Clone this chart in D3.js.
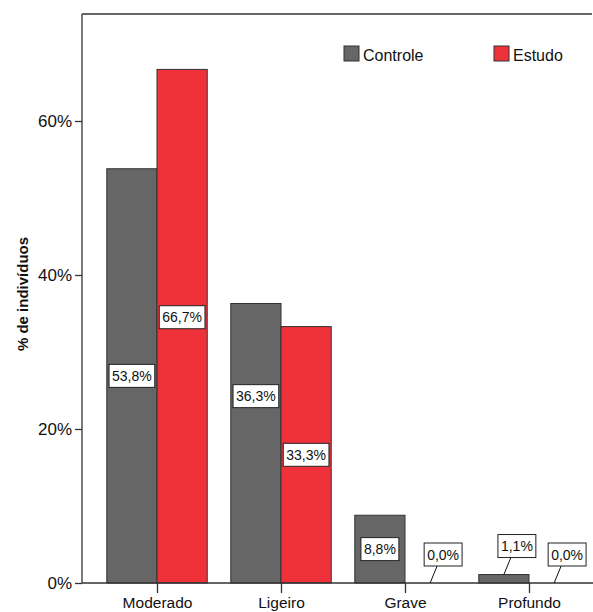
<!DOCTYPE html>
<html>
<head>
<meta charset="utf-8">
<script src="https://cdn.jsdelivr.net/npm/d3@7"></script>
<style>
  html, body { margin: 0; padding: 0; background: #fff; }
  svg { display: block; font-family: "Liberation Sans", Arial, sans-serif; }
</style>
</head>
<body>
<svg id="chart" width="593" height="612"></svg>
<script>
// Grau de perda: percentagem de indivíduos por grupo
const categories = ["Moderado", "Ligeiro", "Grave", "Profundo"];
const groups = ["Controle", "Estudo"];
const controleValues = [53.8, 36.3, 8.8, 1.1];
const estudoValues = [66.7, 33.3, 0.0, 0.0];
const yTicks = [0, 20, 40, 60];
const groupColors = ["#666666", "#ef323a"];

const svg = d3.select("#chart");
const plotLeft = 82, plotRight = 592, plotTop = 14, plotBottom = 583;

const x0 = d3.scaleBand()
  .domain(categories)
  .range([95, 591])
  .paddingInner(0.19)
  .paddingOuter(0.095);

const x1 = d3.scaleBand()
  .domain(groups)
  .range([0, x0.bandwidth()]);

const y = d3.scaleLinear()
  .domain([0, 60])
  .range([plotBottom, plotBottom - 60 * 7.7]);

const color = d3.scaleOrdinal().domain(groups).range(groupColors);

const fmt = v => d3.format(".1f")(v).replace(".", ",") + "%";

const rows = categories.map((c, i) => ({
  category: c,
  values: [
    { group: "Controle", value: controleValues[i] },
    { group: "Estudo", value: estudoValues[i] }
  ]
}));

// frame: top line
svg.append("line")
  .attr("x1", plotLeft).attr("x2", plotRight)
  .attr("y1", plotTop).attr("y2", plotTop)
  .attr("stroke", "#333").attr("stroke-width", 1.3);

// bars
const catG = svg.selectAll("g.cat")
  .data(rows)
  .join("g")
  .attr("class", "cat")
  .attr("transform", d => `translate(${x0(d.category)},0)`);

catG.selectAll("rect")
  .data(d => d.values.filter(v => v.value > 0))
  .join("rect")
  .attr("x", d => x1(d.group))
  .attr("y", d => y(d.value))
  .attr("width", x1.bandwidth())
  .attr("height", d => y(0) - y(d.value))
  .attr("fill", d => color(d.group))
  .attr("stroke", "#333")
  .attr("stroke-width", 1);

// y axis
const yAxis = d3.axisLeft(y)
  .tickValues(yTicks)
  .tickSize(7)
  .tickPadding(3)
  .tickFormat(d => d + "%");

const yG = svg.append("g")
  .attr("transform", `translate(${plotLeft},0)`)
  .call(yAxis);
yG.select(".domain").attr("d", `M0,${plotBottom}V${plotTop}`).attr("stroke", "#333").attr("stroke-width", 1.3);
yG.selectAll(".tick line").attr("stroke", "#333").attr("stroke-width", 1.3);
yG.selectAll(".tick text")
  .attr("font-family", "Liberation Sans, Arial, sans-serif")
  .attr("font-size", 17).attr("fill", "#111");

// x axis
const centers = categories.map(c => x0(c) + x0.bandwidth() / 2);
const xAxis = d3.axisBottom(d3.scalePoint().domain(categories)
    .range([centers[0], centers[centers.length - 1]]))
  .tickSize(10)
  .tickPadding(4)
  .tickSizeOuter(0);

const xG = svg.append("g")
  .attr("transform", `translate(0,${plotBottom})`)
  .call(xAxis);
xG.select(".domain").attr("d", `M${plotLeft},0H593`).attr("stroke", "#333").attr("stroke-width", 1.3);
xG.selectAll(".tick line").attr("stroke", "#333").attr("stroke-width", 1.3);
xG.selectAll(".tick text")
  .attr("font-family", "Liberation Sans, Arial, sans-serif")
  .attr("font-size", 15.5).attr("fill", "#111");

// y axis title
svg.append("text")
  .attr("transform", `translate(27.5,294) rotate(-90)`)
  .attr("text-anchor", "middle")
  .attr("font-size", 15)
  .attr("font-weight", "bold")
  .attr("fill", "#111")
  .text("% de indivíduos");

// legend
const legend = svg.append("g");
const legendX = [344, 494];
groups.forEach((g, i) => {
  legend.append("rect")
    .attr("x", legendX[i]).attr("y", 46)
    .attr("width", 15).attr("height", 15)
    .attr("fill", color(g)).attr("stroke", "#333").attr("stroke-width", 1);
  legend.append("text")
    .attr("x", legendX[i] + 19).attr("y", 61)
    .attr("font-size", 16).attr("fill", "#111")
    .text(g);
});

// value labels
const boxH = 23, padX = 3;
const labels = [];
rows.forEach(r => {
  r.values.forEach(v => {
    const cx = x0(r.category) + x1(v.group) + x1.bandwidth() / 2;
    const barH = y(0) - y(v.value);
    const inside = barH > boxH + 8;
    labels.push({ ...v, category: r.category, cx, inside,
      anchorY: y(v.value),
      cy: inside ? (y(v.value) + y(0)) / 2 : 0 });
  });
});

// separate labels that sit at similar heights within a category
categories.forEach(c => {
  const pair = labels.filter(l => l.category === c && l.inside);
  if (pair.length === 2) {
    const minGap = boxH * 2.55;
    const [a, b] = pair;
    if (Math.abs(a.cy - b.cy) < minGap) {
      const hi = a.value >= b.value ? a : b;
      const lo = hi === a ? b : a;
      hi.cy = lo.cy - minGap;
    }
  }
});

const labelG = svg.append("g");
labels.forEach(l => {
  const g = labelG.append("g");
  const t = g.append("text")
    .attr("font-size", 14).attr("fill", "#111")
    .attr("text-anchor", "middle")
    .text(fmt(l.value));
  const w = t.node().getComputedTextLength() + padX * 2;
  let bx, by;
  if (l.inside) {
    bx = l.cx - w / 2;
    by = l.cy - boxH / 2;
  } else {
    const lx = l.cx + 7, ly = l.anchorY - 17;
    g.insert("line", "text")
      .attr("x1", l.cx).attr("y1", l.anchorY)
      .attr("x2", lx).attr("y2", ly)
      .attr("stroke", "#111").attr("stroke-width", 1);
    bx = lx - w / 2 + 6;
    by = ly - boxH;
  }
  g.insert("rect", "text")
    .attr("x", bx).attr("y", by)
    .attr("width", w).attr("height", boxH)
    .attr("fill", "#fff").attr("stroke", "#222").attr("stroke-width", 1);
  t.attr("x", bx + w / 2).attr("y", by + boxH / 2 + 5);
});
</script>
</body>
</html>
